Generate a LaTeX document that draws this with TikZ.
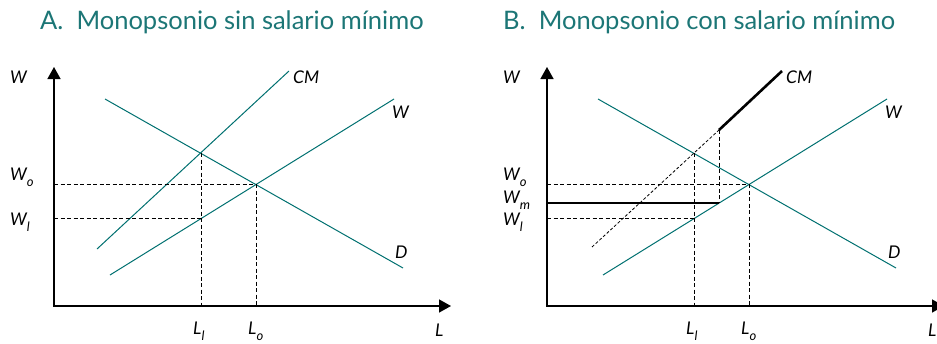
\documentclass[tikz,border=0pt]{standalone}
\usepackage{fontspec}
\setmainfont{Lato}
\usepackage{tikz}
\usetikzlibrary{arrows.meta}
\definecolor{tealline}{RGB}{0,112,112}
\definecolor{tealtitle}{RGB}{28,118,118}
\newcommand{\wlab}[2]{\textit{#1}\raisebox{-6.5pt}{\fontsize{13}{13}\selectfont\textit{#2}}}

\begin{document}
\begin{tikzpicture}[x=1pt,y=-1pt,
  axis/.style={line width=1.5pt,line join=miter,{Triangle[length=12pt,width=13pt]}-{Triangle[length=12pt,width=13pt]}},
  curve/.style={tealline,line width=1pt},
  guide/.style={line width=1pt,dash pattern=on 4pt off 2.5pt},
  bold/.style={line width=2.6pt},
  lbl/.style={font=\fontsize{17.5}{19}\selectfont\itshape,inner sep=0pt,anchor=base west},
  title/.style={font=\fontsize{25.5}{28}\selectfont,text=tealtitle,inner sep=0pt,anchor=base west}]
\useasboundingbox (0,0) rectangle (937,343);
% panel A
\node[title] (tA) at (40,29) {A.\ \ Monopsonio sin salario mínimo};
\coordinate (O) at (54,306);
\draw[axis] (54,67) -- (O) -- (451,306);
\draw[curve] (97,249) -- (289,71);
\draw[curve] (110,275) -- (394,99);
\draw[curve] (105,99) -- (403,268);
\coordinate (E1) at (201,153);
\coordinate (E0) at (256,184.5);
\coordinate (F1) at (201,218);
\draw[guide] (E1) -- (E1 |- O);
\draw[guide] (O |- F1) -- (F1);
\draw[guide] (O |- E0) -- (E0) -- (E0 |- O);
\node[lbl] (yA) at (10,83) {W};
\node[lbl] (cmA) at (293,83) {CM};
\node[lbl] (wA) at (392,118) {W};
\node[lbl] (dA) at (395,258) {D};
\node[lbl] (xA) at (435,336) {L};
\node[lbl] (woA) at (10,180) {\wlab{W}{o}};
\node[lbl] (wlA) at (10,225) {\wlab{W}{l}};
\node[lbl] (llA) at (193,334) {\wlab{L}{l}};
\node[lbl] (loA) at (248,334) {\wlab{L}{o}};
% panel B
\begin{scope}[xshift=493pt]
\node[title] (tB) at (10,29) {B.\ \ Monopsonio con salario mínimo};
\coordinate (O) at (54,306);
\draw[axis] (54,67) -- (O) -- (451,306);
\draw[curve] (110,275) -- (394,99);
\draw[curve] (105,99) -- (403,268);
\coordinate (K) at (226,130);
\coordinate (M) at (226,203);
\coordinate (E1) at (201,153);
\coordinate (E0) at (256,184.5);
\coordinate (F1) at (201,218);
\draw[line width=0.8pt,dash pattern=on 3pt off 2pt] (99,247) -- (K);
\draw[bold] (K) -- (289,71);
\draw[guide] (K) -- (M);
\draw[bold] (O |- M) -- (M);
\draw[guide] (E1) -- (E1 |- O);
\draw[guide] (O |- F1) -- (F1);
\draw[guide] (O |- E0) -- (E0) -- (E0 |- O);
\node[lbl] (yB) at (10,83) {W};
\node[lbl] (cmB) at (293,83) {CM};
\node[lbl] (wB) at (392,118) {W};
\node[lbl] (dB) at (395,258) {D};
\node[lbl] (xB) at (435,336) {L};
\node[lbl] (woB) at (10,180) {\wlab{W}{o}};
\node[lbl] (wmB) at (10,203) {\wlab{W}{m}};
\node[lbl] (wlB) at (10,225) {\wlab{W}{l}};
\node[lbl] (llB) at (193,334) {\wlab{L}{l}};
\node[lbl] (loB) at (248,334) {\wlab{L}{o}};
\end{scope}
\end{tikzpicture}
\end{document}
